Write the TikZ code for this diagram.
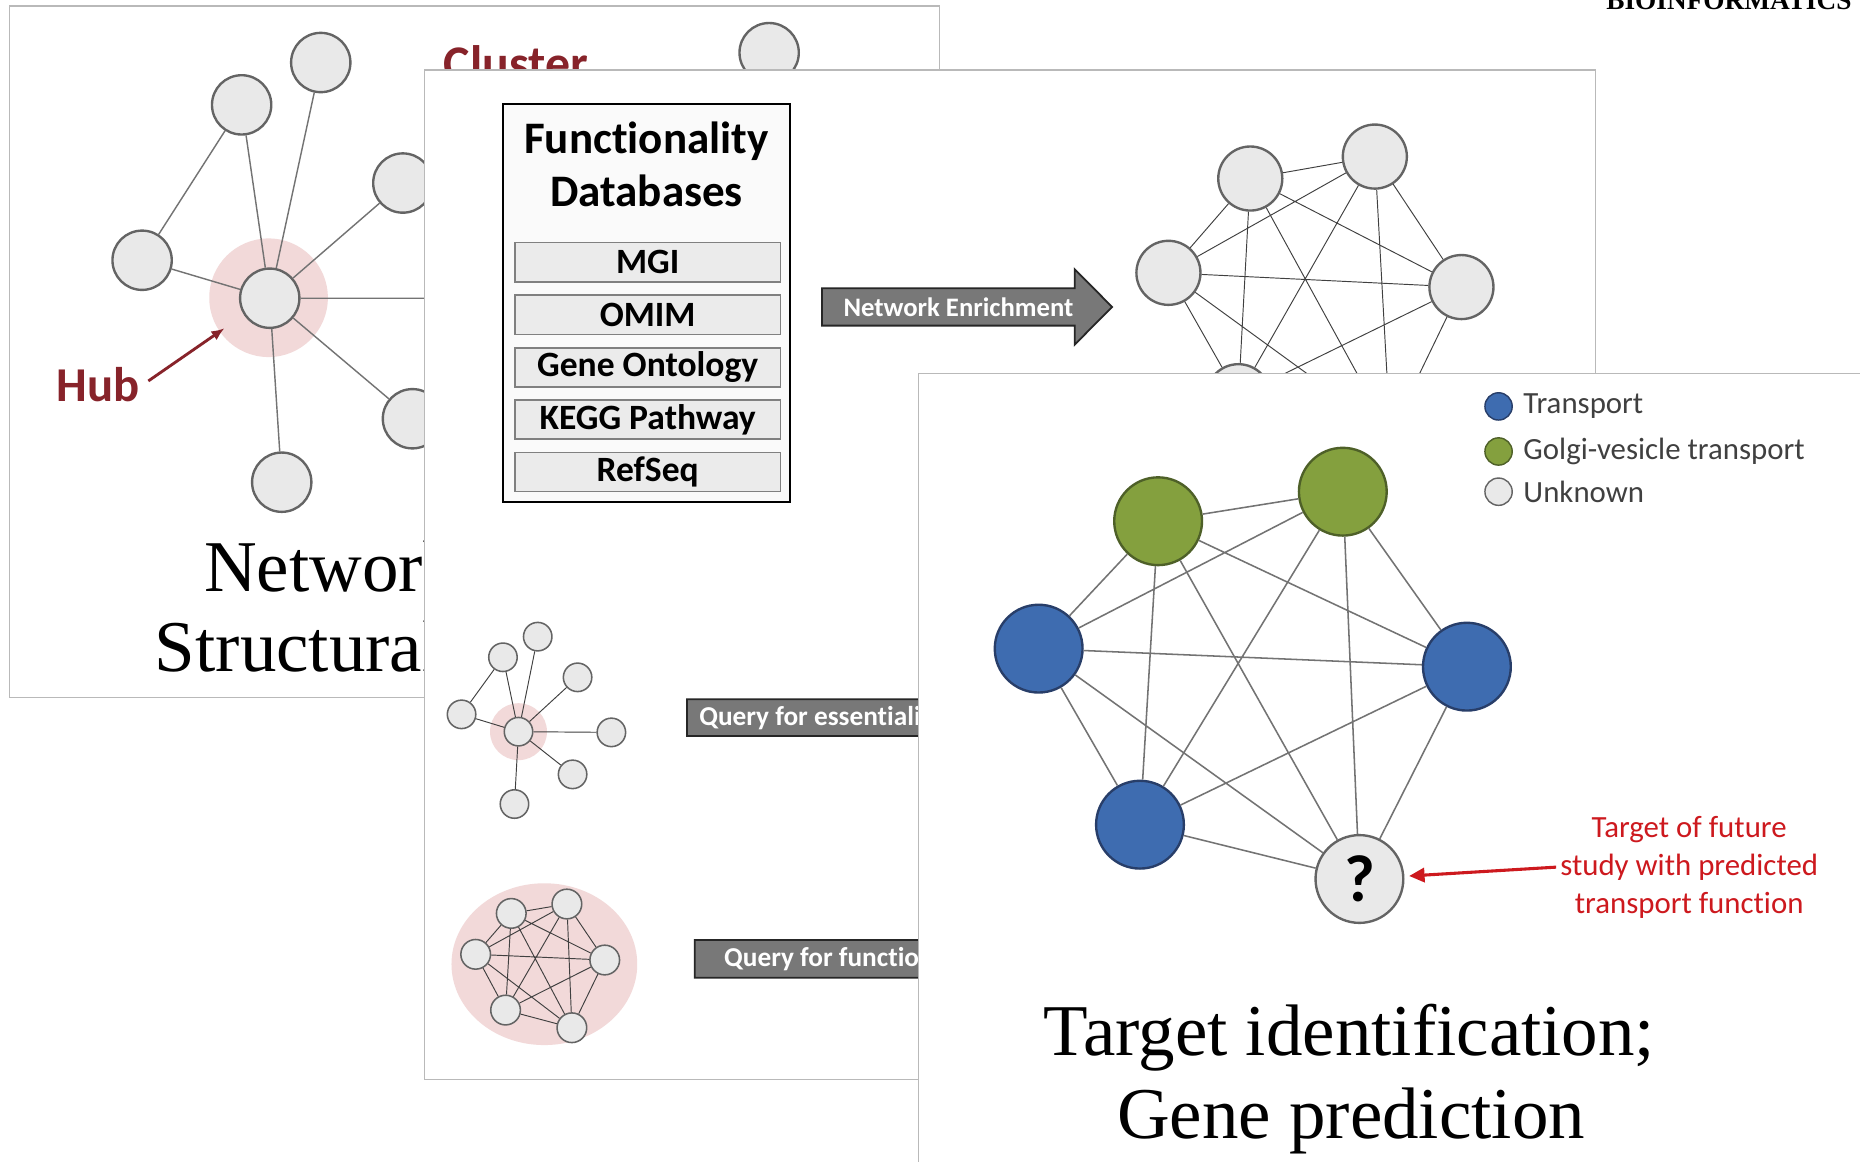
\documentclass[tikz,border=0pt]{standalone}
\usepackage{fontspec}
\setmainfont{Carlito}[Ligatures=NoCommon]
\newfontfamily\titlefont{Liberation Serif}
\usetikzlibrary{calc,positioning,arrows.meta}
\definecolor{slideline}{RGB}{185,185,185}
\definecolor{nodefill}{RGB}{233,233,233}
\definecolor{nodeline}{RGB}{100,100,100}
\colorlet{nodefillline}{nodeline}
\definecolor{halopink}{RGB}{242,217,217}
\definecolor{hubred}{RGB}{135,35,42}
\definecolor{tblue}{RGB}{62,108,176}
\definecolor{tblueline}{RGB}{40,62,105}
\definecolor{tgreen}{RGB}{132,160,62}
\definecolor{tgreenline}{RGB}{78,96,40}
\definecolor{barfill}{RGB}{120,120,120}
\definecolor{legendtxt}{RGB}{64,64,64}
\definecolor{notered}{RGB}{205,25,30}
\def\blockarrow(#1,#2)(#3,#4){\draw[barrow] (#1,#2) -- ++(#3,0) -- ++(0,-16) -- ++(31.5,{16+#4/2}) -- ++(-31.5,{16+#4/2}) -- ++(0,-16) -- ++(-#3,0) -- cycle;}
\tikzset{
	slide/.style={draw=slideline, line width=1.2, fill=white},
	halo/.style={circle, fill=halopink, inner sep=0, minimum size=#1},
	gnode/.style={circle, fill=nodefill, draw=nodeline, line width=2, inner sep=0, minimum size=#1},
	gnode/.default=50,
	cnode/.style={circle, fill=#1, draw=#1line, line width=2, inner sep=0, minimum size=74},
	legdot/.style={circle, fill=#1, draw=#1line, line width=1.2, inner sep=0, minimum size=23},
	link/.style={draw=black!55, line width=1.2},
	thinlink/.style={draw=black!75, line width=0.8},
	slidetitle/.style={font=\titlefont\fontsize{61.5}{72}\selectfont, inner sep=0},
	redlbl/.style={font=\bfseries\fontsize{41}{41}\selectfont, text=hubred},
	dbentry/.style={draw=black!50, fill=black!8, line width=1.3, minimum width=224, minimum height=33, inner sep=0, font=\bfseries\fontsize{30}{30}\selectfont},
	barrow/.style={draw=black!85, fill=barfill, line width=1.5},
	bartext/.style={text=white, font=\bfseries\fontsize{22.5}{22.5}\selectfont},
	legtext/.style={text=legendtxt, inner sep=0, font=\fontsize{26}{26}\selectfont},
}

\begin{document}
\begin{tikzpicture}[x=1pt,y=-1pt]
			%%%%% START %%%%%
			\useasboundingbox (0,0) rectangle (1568,979);
			
			\node[anchor=base east, inner sep=0, font=\titlefont\bfseries\fontsize{23}{23}\selectfont] (journal) at (1561,7.9) {BIOINFORMATICS};
			
			% slide 1
			\draw[slide] (8,5) rectangle (792,588);
			\node[halo=100] (hubhalo) at (226.4,251) {};
			\node[gnode] (hub) at (227.4,251.4) {};
			\node[gnode] (hubA) at (270.4,52.7) {};
			\node[gnode] (hubB) at (203.7,88.4) {};
			\node[gnode] (hubC) at (119.8,219.4) {};
			\node[gnode] (hubD) at (339.6,154.3) {};
			\node[gnode] (hubE) at (347.7,353) {};
			\node[gnode] (hubF) at (237.5,406.5) {};
			\coordinate (hubG) at (420,251.4);
			\node[gnode] (clA) at (648.4,44.4) {};
			\draw[link] (hub) -- (hubA) (hub) -- (hubB) (hub) -- (hubC) (hub) -- (hubD)
				(hub) -- (hubE) (hub) -- (hubF) (hub) -- (hubG) (hubC) -- (hubB);
			
			\node[redlbl] (hublbl) at (82.5,324) {Hub};
			\draw[draw=hubred, line width=2.4, -{Latex[length=11,width=9]}, shorten <=5, shorten >=-5] (hublbl.east) -- (hubhalo);
			\node[redlbl, anchor=base west, inner sep=0, font=\bfseries\fontsize{42}{42}\selectfont] (cluster) at (374,68) {Cluster};
			
			\node[slidetitle, anchor=base west] (netA) at (171.8,498.7) {Network};
			\node[slidetitle, anchor=base west] (netB) at (130.4,566.4) {Structural};
			
			% slide 2
			\draw[slide] (358,59) rectangle (1345,910);
			\draw[line width=1.6, fill=black!2] (424,88) rectangle (666,423);
			\node[align=center, inner sep=0, font=\bfseries\fontsize{38}{45}\selectfont] (dbtitle) at (545,138.5) {Functionality\\Databases};
			\node[dbentry] (mgi) at (546,221) {MGI};
			\node[dbentry] (omim) at (546,265.3) {OMIM};
			\node[dbentry] (go) at (546,309.7) {Gene Ontology};
			\node[dbentry] (kegg) at (546,353.8) {KEGG Pathway};
			\node[dbentry] (refseq) at (546,398) {RefSeq};
			
			\blockarrow(693,243)(213,31.5)
			\node[bartext] (enrich) at (808,259) {Network Enrichment};
			\blockarrow(579.2,589.5)(240,31)
			\node[bartext, anchor=west, font=\bfseries\fontsize{23}{23}\selectfont] (qess) at (586,605) {Query for essentiality};
			\blockarrow(585.6,792.4)(240,31.8)
			\node[bartext, anchor=west, font=\bfseries\fontsize{23}{23}\selectfont] (qfun) at (607,808.3) {Query for function};
			
			\node[gnode=54] (enL) at (985,230) {};
			\node[gnode=54] (enTL) at (1054,150.5) {};
			\node[gnode=54] (enTR) at (1159,132) {};
			\node[gnode=54] (enR) at (1232,242) {};
			\node[gnode=54] (enBL) at (1044,334) {};
			\node[gnode=54] (enQ) at (1172,366) {};
			\draw[thinlink] (enL) -- (enTL) (enL) -- (enTR) (enL) -- (enR) (enL) -- (enBL) (enL) -- (enQ)
				(enTL) -- (enTR) (enTL) -- (enR) (enTL) -- (enBL) (enTL) -- (enQ)
				(enTR) -- (enR) (enTR) -- (enBL) (enTR) -- (enQ)
				(enR) -- (enBL) (enR) -- (enQ) (enBL) -- (enQ);
			
			\node[halo=48] (sthalo) at (437.1,616.8) {};
			\node[gnode=24, line width=1.3] (st) at (437.1,616.8) {};
			\node[gnode=24, line width=1.3] (stA) at (424,554.1) {};
			\node[gnode=24, line width=1.3] (stB) at (453.3,536.7) {};
			\node[gnode=24, line width=1.3] (stC) at (486.9,571) {};
			\node[gnode=24, line width=1.3] (stD) at (389.1,602.2) {};
			\node[gnode=24, line width=1.3] (stE) at (515.4,617.4) {};
			\node[gnode=24, line width=1.3] (stF) at (482.7,652.8) {};
			\node[gnode=24, line width=1.3] (stG) at (433.7,677.8) {};
			\draw[thinlink] (st) -- (stA) (st) -- (stB) (st) -- (stC) (st) -- (stD)
				(st) -- (stE) (st) -- (stF) (st) -- (stG) (stD) -- (stA);
			
			\fill[halopink] (458.9,812.8) ellipse (78.3 and 68.2);
			\node[gnode=25, line width=1.3] (kA) at (431,770) {};
			\node[gnode=25, line width=1.3] (kB) at (477.9,762.1) {};
			\node[gnode=25, line width=1.3] (kC) at (401,804.5) {};
			\node[gnode=25, line width=1.3] (kD) at (509.8,809.3) {};
			\node[gnode=25, line width=1.3] (kE) at (426.2,851.5) {};
			\node[gnode=25, line width=1.3] (kF) at (482.1,866.4) {};
			\draw[thinlink] (kA) -- (kB) (kA) -- (kC) (kA) -- (kD) (kA) -- (kE) (kA) -- (kF)
				(kB) -- (kC) (kB) -- (kD) (kB) -- (kE) (kB) -- (kF)
				(kC) -- (kD) (kC) -- (kE) (kC) -- (kF)
				(kD) -- (kE) (kD) -- (kF) (kE) -- (kF);
			
			% slide 3
			\draw[slide] (774.3,314.7) rectangle (1620,1020);
			
			\node[legdot=tblue] (legT) at (1263.3,342.6) {};
			\node[legtext, right=8.7 of legT] (legTtxt) {Transport};
			\node[legdot=tgreen] (legG) at (1263.3,380.6) {};
			\node[legtext, right=8.7 of legG] (legGtxt) {Golgi-vesicle transport};
			\node[legdot=nodefill] (legU) at (1263.3,414.5) {};
			\node[legtext, right=8.7 of legU] (legUtxt) {Unknown};
			
			\node[cnode=tgreen] (tGL) at (976.3,439.4) {};
			\node[cnode=tgreen] (tGR) at (1132,414.5) {};
			\node[cnode=tblue] (tL) at (875.6,546.8) {};
			\node[cnode=tblue] (tR) at (1236.6,562) {};
			\node[cnode=tblue] (tBL) at (961,695.2) {};
			\node[gnode=74, line width=2, font=\bfseries\fontsize{56}{56}\selectfont] (unk) at (1146,741) {?};
			\draw[link, line width=1.3] (tGL) -- (tGR) (tGL) -- (tL) (tGL) -- (tR) (tGL) -- (tBL) (tGL) -- (unk)
				(tGR) -- (tL) (tGR) -- (tR) (tGR) -- (tBL) (tGR) -- (unk)
				(tL) -- (tR) (tL) -- (tBL) (tL) -- (unk)
				(tR) -- (tBL) (tR) -- (unk) (tBL) -- (unk);
			
			\node[align=center, text=notered, font=\fontsize{26}{32}\selectfont] (note) at (1424,731) {Target of future\\study with predicted\\transport function};
			\draw[draw=notered, line width=2.6, -{Triangle[length=13,width=12]}, shorten >=4] (note.west) -- (unk);
			
			\node[slidetitle, anchor=base] (tgtA) at (1137.5,889.4) {Target identification;};
			\node[slidetitle, anchor=base] (tgtB) at (1139,959.6) {Gene prediction};
			
			%%%%% END %%%%%
\end{tikzpicture}
\end{document}
